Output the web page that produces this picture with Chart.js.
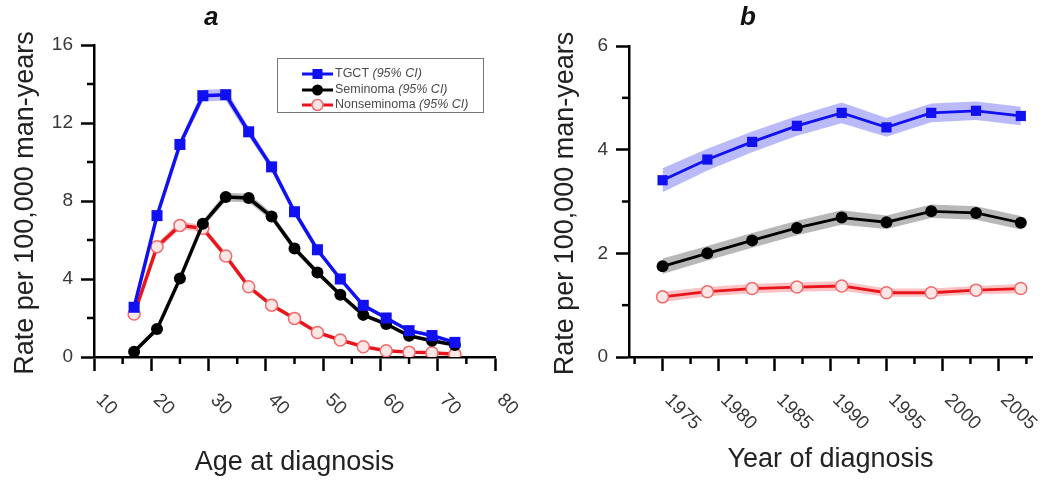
<!DOCTYPE html>
<html><head><meta charset="utf-8">
<script src="https://cdn.jsdelivr.net/npm/chart.js@4.4.1/dist/chart.umd.min.js"></script>
<style>html,body{margin:0;padding:0;background:#fff;overflow:hidden;width:1050px;height:487px}canvas{position:absolute;top:0}</style>
</head><body>
<canvas id="ca" width="525" height="487" style="left:0"></canvas>
<canvas id="cb" width="525" height="487" style="left:525px"></canvas>
<script>
// ---------- data: panel a (age) ----------
const ages = [17,21,25,29,33,37,41,45,49,53,57,61,65,69,73];
const tgctA   = [2.55,7.25,10.9,13.4,13.45,11.55,9.75,7.45,5.5,4.0,2.65,2.0,1.35,1.1,0.75];
const tgctALo = [2.4,7.05,10.7,13.1,13.15,11.3,9.55,7.25,5.35,3.88,2.55,1.9,1.27,1.02,0.68];
const tgctAHi = [2.7,7.45,11.1,13.7,13.75,11.8,9.95,7.65,5.65,4.12,2.75,2.1,1.43,1.18,0.82];
const semA    = [0.27,1.43,4.02,6.83,8.2,8.15,7.2,5.57,4.33,3.19,2.16,1.69,1.09,0.83,0.62];
const semALo  = [0.2,1.33,3.88,6.65,7.98,7.93,7.0,5.4,4.18,3.06,2.05,1.6,1.02,0.76,0.56];
const semAHi  = [0.34,1.53,4.16,7.01,8.42,8.37,7.4,5.74,4.48,3.32,2.27,1.78,1.16,0.9,0.68];
const nonA    = [2.2,5.66,6.75,6.6,5.18,3.6,2.66,1.98,1.26,0.87,0.53,0.32,0.25,0.22,0.14];
const nonALo  = [2.05,5.48,6.55,6.42,5.02,3.47,2.55,1.89,1.19,0.81,0.48,0.28,0.21,0.18,0.1];
const nonAHi  = [2.35,5.84,6.95,6.78,5.34,3.73,2.77,2.07,1.33,0.93,0.58,0.36,0.29,0.26,0.18];
// ---------- data: panel b (year) ----------
const years = [1975,1979,1983,1987,1991,1995,1999,2003,2007];
const tgctB   = [3.41,3.81,4.15,4.46,4.71,4.43,4.71,4.75,4.65];
const tgctBLo = [3.18,3.6,3.95,4.27,4.51,4.25,4.53,4.57,4.47];
const tgctBHi = [3.64,4.02,4.35,4.65,4.91,4.61,4.89,4.93,4.83];
const semB    = [1.75,2.0,2.25,2.49,2.69,2.6,2.81,2.78,2.59];
const semBLo  = [1.6,1.86,2.11,2.35,2.55,2.47,2.68,2.65,2.46];
const semBHi  = [1.9,2.14,2.39,2.63,2.83,2.73,2.94,2.91,2.72];
const nonB    = [1.16,1.26,1.32,1.35,1.37,1.24,1.24,1.29,1.32];
const nonBLo  = [1.06,1.17,1.23,1.26,1.28,1.16,1.16,1.21,1.23];
const nonBHi  = [1.26,1.35,1.41,1.44,1.46,1.32,1.32,1.37,1.41];
// ---------- names / ticks ----------
const seriesNames = ['TGCT','Seminoma','Nonseminoma'];
const ciLabel = '(95% CI)';
const xTicksA = [10,20,30,40,50,60,70,80];
const xMinorA = [15,25,35,45,55,65,75];
const yTicksA = [0,4,8,12,16];
const yMinorA = [2,6,10,14];
const xTicksB = [1975,1980,1985,1990,1995,2000,2005];
const xMinorB = [1972.5,1977.5,1982.5,1987.5,1992.5,1997.5,2002.5,2007.5];
const yTicksB = [0,2,4,6];
const yMinorB = [1,3,5];
const yTitle = 'Rate per 100,000 man-years';

const FAM = '"Liberation Sans", Arial, sans-serif';
Chart.defaults.font.family = FAM;

const COL = {
  tgct: '#1010f0', tgctBand: 'rgba(90,90,245,0.42)',
  sem: '#000000', semBand: 'rgba(0,0,0,0.28)',
  non: '#e8151c', nonBand: 'rgba(240,80,80,0.35)', nonFill: '#fde6e6', nonEdge: '#f06a6a'
};

function pts(xs, ys) { return xs.map((x, i) => ({x: x, y: ys[i]})); }

function buildDatasets(xs, t, tl, th, s, sl, sh, n, nl, nh, r, lw) {
  const band = (d, c) => ({data: pts(xs, d), borderColor: 'rgba(0,0,0,0)', borderWidth: 0, pointRadius: 0, fill: false, backgroundColor: c});
  const hi = (d, c) => Object.assign(band(d, c), {fill: '+1'});
  return [
    {data: pts(xs, t), borderColor: COL.tgct, backgroundColor: COL.tgct, borderWidth: lw, pointStyle: 'rect', pointRadius: r.sq, pointBorderWidth: 0, fill: false},
    {data: pts(xs, s), borderColor: COL.sem, backgroundColor: COL.sem, borderWidth: lw, pointStyle: 'circle', pointRadius: r.c, pointBorderWidth: 0, fill: false},
    {data: pts(xs, n), borderColor: COL.non, backgroundColor: COL.nonFill, pointBorderColor: COL.nonEdge, borderWidth: lw, pointStyle: 'circle', pointRadius: r.c, pointBorderWidth: 1.5, fill: false},
    hi(th, COL.tgctBand), band(tl, COL.tgctBand),
    hi(sh, COL.semBand), band(sl, COL.semBand),
    hi(nh, COL.nonBand), band(nl, COL.nonBand)
  ];
}

function setTicks(arr) { return s => { s.ticks = arr.map(v => ({value: v})); }; }

function scales(o) {
  return {
    x: {type: 'linear', min: o.xmin, max: o.xmax,
        afterBuildTicks: setTicks(o.xTicks),
        afterFit: s => { s.height = o.xh; },
        ticks: {display: false},
        grid: {drawOnChartArea: false, drawTicks: true, tickLength: 14, tickWidth: 2.5, tickColor: '#000'},
        border: {display: true, color: '#000', width: 2.5}},
    y: {type: 'linear', min: o.ymin, max: o.ymax,
        afterBuildTicks: setTicks(o.yTicks),
        afterFit: s => { s.width = o.yw; },
        ticks: {color: '#383838', font: {size: 19, family: FAM}, padding: 8, callback: v => String(v)},
        grid: {drawOnChartArea: false, drawTicks: true, tickLength: 13, tickWidth: 2.5, tickColor: '#000'},
        border: {display: true, color: '#000', width: 2.5}}
  };
}

function drawMarker(ctx, kind, x, y) {
  ctx.save();
  if (kind === 0) { ctx.fillStyle = COL.tgct; ctx.fillRect(x - 5, y - 5, 10, 10); }
  else if (kind === 1) { ctx.fillStyle = COL.sem; ctx.beginPath(); ctx.arc(x, y, 5.5, 0, Math.PI * 2); ctx.fill(); }
  else { ctx.fillStyle = COL.nonFill; ctx.strokeStyle = COL.nonEdge; ctx.lineWidth = 1.5; ctx.beginPath(); ctx.arc(x, y, 5.5, 0, Math.PI * 2); ctx.fill(); ctx.stroke(); }
  ctx.restore();
}

function drawLegend(ctx) {
  ctx.save();
  ctx.strokeStyle = '#777'; ctx.lineWidth = 1;
  ctx.strokeRect(277.5, 58.5, 206, 54);
  const rowsY = [74, 90, 105];
  const cols = [COL.tgct, COL.sem, COL.non];
  seriesNames.forEach((nm, i) => {
    const y = rowsY[i];
    ctx.strokeStyle = cols[i]; ctx.lineWidth = 3;
    ctx.beginPath(); ctx.moveTo(302, y); ctx.lineTo(333, y); ctx.stroke();
    drawMarker(ctx, i, 317.5, y);
    ctx.fillStyle = '#4a4a4a'; ctx.textAlign = 'left'; ctx.textBaseline = 'middle';
    ctx.font = '12.5px ' + FAM;
    ctx.fillText(nm + ' ', 335, y);
    const w = ctx.measureText(nm + ' ').width;
    ctx.font = 'italic 12.5px ' + FAM;
    ctx.fillText(ciLabel, 335 + w, y);
  });
  ctx.restore();
}

function decor(o) {
  return {
    id: 'decor',
    afterDraw(chart) {
      const ctx = chart.ctx, xs = chart.scales.x, ys = chart.scales.y, ca = chart.chartArea;
      ctx.save();
      ctx.strokeStyle = '#000'; ctx.lineWidth = 2.5;
      o.yMinor.forEach(v => { const p = ys.getPixelForValue(v); ctx.beginPath(); ctx.moveTo(ca.left - 7, p); ctx.lineTo(ca.left, p); ctx.stroke(); });
      o.xMinor.forEach(v => { const p = xs.getPixelForValue(v); ctx.beginPath(); ctx.moveTo(p, ca.bottom); ctx.lineTo(p, ca.bottom + 7); ctx.stroke(); });
      // rotated x tick labels
      ctx.fillStyle = '#383838'; ctx.font = '19px ' + FAM; ctx.textAlign = 'left'; ctx.textBaseline = 'middle';
      o.xTicks.forEach(v => {
        const p = xs.getPixelForValue(v);
        ctx.save(); ctx.translate(p + 5, ca.bottom + 40); ctx.rotate(Math.PI / 4);
        ctx.fillText(String(v), 0, 0); ctx.restore();
      });
      // axis titles
      ctx.fillStyle = '#222'; ctx.font = '27px ' + FAM;
      ctx.textAlign = 'center'; ctx.textBaseline = 'alphabetic';
      ctx.fillText(o.xTitle, (ca.left + ca.right) / 2, o.xTitleY);
      ctx.save(); ctx.translate(o.yTitleX, (ca.top + ca.bottom) / 2 + 2); ctx.rotate(-Math.PI / 2);
      ctx.fillText(yTitle, 0, 0); ctx.restore();
      // panel letter
      ctx.fillStyle = '#111'; ctx.font = 'bold italic 26px ' + FAM; ctx.textAlign = 'left';
      ctx.fillText(o.letter, o.letterX, 25);
      if (o.legend) drawLegend(ctx);
      ctx.restore();
    }
  };
}

function make(id, datasets, sc, pad, deco) {
  return new Chart(document.getElementById(id), {
    type: 'line',
    data: {datasets: datasets},
    options: {
      responsive: false, animation: false, devicePixelRatio: 1,
      layout: {padding: pad},
      elements: {line: {tension: 0}},
      plugins: {legend: {display: false}, tooltip: {enabled: false}},
      scales: scales(sc)
    },
    plugins: [decor(deco)]
  });
}

make('ca',
  buildDatasets(ages, tgctA, tgctALo, tgctAHi, semA, semALo, semAHi, nonA, nonALo, nonAHi, {sq: 7.8, c: 6}, 3.5),
  {xmin: 10, xmax: 80, ymin: 0, ymax: 16, xTicks: xTicksA, yTicks: yTicksA, xh: 130, yw: 94},
  {left: 0, top: 45, right: 30, bottom: 0},
  {xMinor: xMinorA, yMinor: yMinorA, xTicks: xTicksA, xTitle: 'Age at diagnosis', xTitleY: 470, yTitleX: 33, letter: 'a', letterX: 204, legend: true});

make('cb',
  buildDatasets(years, tgctB, tgctBLo, tgctBHi, semB, semBLo, semBHi, nonB, nonBLo, nonBHi, {sq: 7.2, c: 6}, 2.8),
  {xmin: 1972, xmax: 2008, ymin: 0, ymax: 6, xTicks: xTicksB, yTicks: yTicksB, xh: 130, yw: 104},
  {left: 0, top: 46, right: 18, bottom: 0},
  {xMinor: xMinorB, yMinor: yMinorB, xTicks: xTicksB, xTitle: 'Year of diagnosis', xTitleY: 467, yTitleX: 48, letter: 'b', letterX: 215, legend: false});
</script>
</body></html>
